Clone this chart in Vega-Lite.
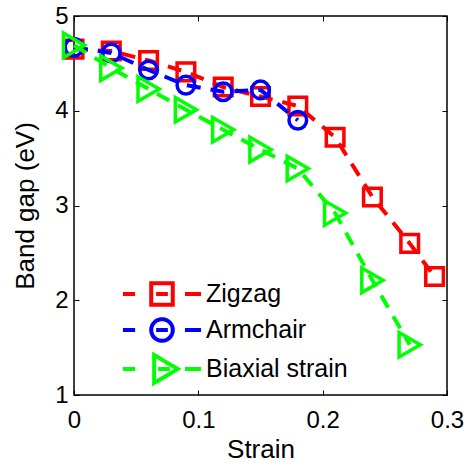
{
  "$schema": "https://vega.github.io/schema/vega-lite/v6.json",
  "width": 373,
  "height": 379,
  "autosize": {"type": "none"},
  "padding": {"left": 74, "top": 16, "right": 20, "bottom": 71},
  "background": "white",
  "config": {
    "view": {"stroke": "black", "strokeWidth": 1.5},
    "font": "Liberation Sans",
    "axis": {"grid": false, "domain": false, "labelFlush": false, "labelColor": "black", "titleColor": "black", "tickColor": "black", "labelFont": "Liberation Sans", "titleFont": "Liberation Sans", "labelFontSize": 24, "titleFontSize": 26, "titleFontWeight": "normal"}
  },
  "data": {
    "values": [
      {"s": "Zigzag", "x": 0, "y": 4.65},
      {"s": "Zigzag", "x": 0.03, "y": 4.63},
      {"s": "Zigzag", "x": 0.06, "y": 4.53},
      {"s": "Zigzag", "x": 0.09, "y": 4.41},
      {"s": "Zigzag", "x": 0.12, "y": 4.25},
      {"s": "Zigzag", "x": 0.15, "y": 4.15},
      {"s": "Zigzag", "x": 0.18, "y": 4.05},
      {"s": "Zigzag", "x": 0.21, "y": 3.72},
      {"s": "Zigzag", "x": 0.24, "y": 3.09},
      {"s": "Zigzag", "x": 0.27, "y": 2.6},
      {"s": "Zigzag", "x": 0.29, "y": 2.25},
      {"s": "Armchair", "x": 0, "y": 4.67},
      {"s": "Armchair", "x": 0.03, "y": 4.61},
      {"s": "Armchair", "x": 0.06, "y": 4.43},
      {"s": "Armchair", "x": 0.09, "y": 4.27},
      {"s": "Armchair", "x": 0.12, "y": 4.2},
      {"s": "Armchair", "x": 0.15, "y": 4.22},
      {"s": "Armchair", "x": 0.18, "y": 3.9},
      {"s": "Biaxial strain", "x": 0, "y": 4.69},
      {"s": "Biaxial strain", "x": 0.03, "y": 4.45},
      {"s": "Biaxial strain", "x": 0.06, "y": 4.23},
      {"s": "Biaxial strain", "x": 0.09, "y": 4.01},
      {"s": "Biaxial strain", "x": 0.12, "y": 3.8},
      {"s": "Biaxial strain", "x": 0.15, "y": 3.59},
      {"s": "Biaxial strain", "x": 0.18, "y": 3.39},
      {"s": "Biaxial strain", "x": 0.21, "y": 2.92},
      {"s": "Biaxial strain", "x": 0.24, "y": 2.21},
      {"s": "Biaxial strain", "x": 0.27, "y": 1.53}
    ]
  },
  "resolve": {"axis": {"x": "independent", "y": "independent"}},
  "layer": [
    {
      "encoding": {
        "x": {"field": "x", "type": "quantitative", "scale": {"domain": [0, 0.3], "nice": false, "zero": false},
              "axis": {"orient": "bottom", "values": [0, 0.1, 0.2, 0.3], "format": "~g", "tickSize": -5, "labelPadding": 18, "title": "Strain", "titlePadding": 4}},
        "y": {"field": "y", "type": "quantitative", "scale": {"domain": [1, 5], "nice": false, "zero": false},
              "axis": {"orient": "left", "values": [1, 2, 3, 4, 5], "format": "~g", "tickSize": -5, "labelPadding": 11, "title": "Band gap (eV)", "titlePadding": 16}},
        "color": {"field": "s", "type": "nominal",
                  "scale": {"domain": ["Zigzag", "Armchair", "Biaxial strain"], "range": ["#ff0000", "#0000ff", "#00ff00"]},
                  "legend": {
                    "orient": "none", "legendX": 72, "legendY": 262, "title": null, "padding": 0,
                    "symbolSize": 784, "symbolStrokeWidth": 4, "symbolType": "circle",
                    "labelFont": "Liberation Sans", "labelFontSize": 25, "labelColor": "black", "labelOffset": 28, "rowPadding": -2,
                    "encode": {"symbols": {"update": {
                      "shape": {"signal": "datum.value === 'Zigzag' ? 'M-2.79,0H-1.92M-0.42,0H0.42M1.64,0H2.79M-0.77,-0.77H0.77V0.77H-0.77Z' : datum.value === 'Armchair' ? 'M-2.79,0H-1.92M-0.42,0H0.42M1.64,0H2.79M0.77,0A0.77,0.77,0,1,1,-0.77,0A0.77,0.77,0,1,1,0.77,0Z' : 'M-2.79,0H-1.92M-0.28,0H0.56M1.64,0H2.79M-0.56,-1.0L1.12,0L-0.56,1.0Z'"},
                      "fill": {"value": "transparent"},
                      "strokeDash": {"value": [1, 0]},
                      "opacity": {"value": 1}
                    }}}
                  }}
      },
      "layer": [
        {"transform": [{"filter": "datum.s === 'Zigzag'"}], "mark": {"type": "line", "strokeWidth": 4, "strokeDash": [14, 10]}},
        {"transform": [{"filter": "datum.s === 'Zigzag'"}], "mark": {"type": "point", "shape": "square", "filled": false, "opacity": 1, "strokeWidth": 3.5, "size": 310}},
        {"transform": [{"filter": "datum.s === 'Armchair'"}], "mark": {"type": "line", "strokeWidth": 4, "strokeDash": [14, 10]}},
        {"transform": [{"filter": "datum.s === 'Armchair'"}], "mark": {"type": "point", "shape": "circle", "filled": false, "opacity": 1, "strokeWidth": 3.5, "size": 310}},
        {"transform": [{"filter": "datum.s === 'Biaxial strain'"}], "mark": {"type": "line", "strokeWidth": 4, "strokeDash": [14, 10]}},
        {"transform": [{"filter": "datum.s === 'Biaxial strain'"}], "mark": {"type": "point", "shape": "triangle-right", "filled": false, "opacity": 1, "strokeWidth": 3.5, "size": 600}}
      ]
    },
    {
      "mark": {"type": "point", "opacity": 0},
      "encoding": {
        "x": {"field": "x", "type": "quantitative", "scale": {"domain": [0, 0.3], "nice": false, "zero": false}, "axis": {"orient": "top", "values": [0, 0.1, 0.2, 0.3], "tickSize": -5, "labels": false, "title": null}},
        "y": {"field": "y", "type": "quantitative", "scale": {"domain": [1, 5], "nice": false, "zero": false}, "axis": {"orient": "right", "values": [1, 2, 3, 4, 5], "tickSize": -5, "labels": false, "title": null}}
      }
    }
  ]
}
